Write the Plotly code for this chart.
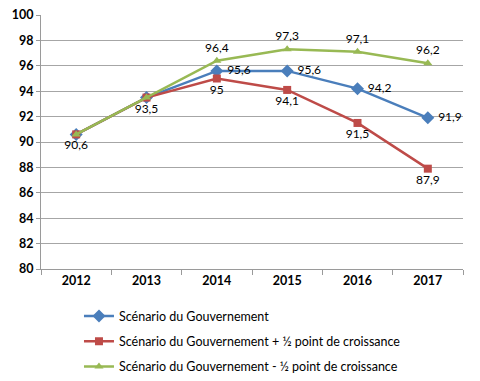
import plotly.graph_objects as go

years = ["2012", "2013", "2014", "2015", "2016", "2017"]
gov = [90.6, 93.5, 95.6, 95.6, 94.2, 91.9]
gov_plus = [90.6, 93.5, 95.0, 94.1, 91.5, 87.9]
gov_minus = [90.6, 93.5, 96.4, 97.3, 97.1, 96.2]
names = ["Scénario du Gouvernement",
         "Scénario du Gouvernement + ½ point de croissance",
         "Scénario du Gouvernement - ½ point de croissance"]
y_ticks = [80, 82, 84, 86, 88, 90, 92, 94, 96, 98, 100]

def fmt(v):
    return ("%g" % v).replace(".", ",")

gov_txt = ["", ""] + [" " + fmt(v) for v in gov[2:]]
plus_txt = [fmt(v) for v in gov_plus]
minus_txt = ["", ""] + [fmt(v) for v in gov_minus[2:]]

fig = go.Figure()
fig.add_trace(go.Scatter(x=years, y=gov, name=names[0], mode="lines+markers+text",
                         line=dict(color="#4A7EBB", width=2.5),
                         marker=dict(symbol="diamond", size=10, color="#4A7EBB"),
                         text=gov_txt, textposition="middle right", cliponaxis=False,
                         textfont=dict(size=12, color="black"), legendgroup="a"))
fig.add_trace(go.Scatter(x=years, y=gov_plus, name=names[1], mode="lines+markers+text",
                         line=dict(color="#BE4B48", width=2.5),
                         marker=dict(symbol="square", size=8, color="#BE4B48"),
                         text=plus_txt, textposition="bottom center", cliponaxis=False,
                         textfont=dict(size=12, color="black"), legendgroup="b"))
fig.add_trace(go.Scatter(x=years, y=gov_minus, name=names[2], mode="lines+markers+text",
                         line=dict(color="#98B954", width=2.5),
                         marker=dict(symbol="triangle-up", size=8, color="#98B954"),
                         text=minus_txt, textposition="top center", cliponaxis=False,
                         textfont=dict(size=12, color="black"), legendgroup="c"))

fig.update_layout(
    width=480, height=381,
    margin=dict(l=41, r=17, t=15, b=112, autoexpand=False),
    paper_bgcolor="white", plot_bgcolor="white",
    font=dict(family="Lato, Open Sans, sans-serif", size=12, color="black"),
    showlegend=True,
    legend=dict(x=0.09, y=-0.127, xanchor="left", yanchor="top",
                orientation="v", tracegroupgap=6, font=dict(size=12.5),
                itemwidth=30, traceorder="grouped"),
    xaxis=dict(type="category", range=[-0.5, 5.5], showgrid=False,
               showline=True, linecolor="#9A9A9A", linewidth=1,
               ticks="outside", tickson="boundaries", ticklen=5, tickcolor="#9A9A9A",
               tickfont=dict(size=12.5, family="Lato, sans-serif", weight="bold")),
    yaxis=dict(range=[80, 100], tickvals=y_ticks, showgrid=True, gridcolor="#A6A6A6",
               gridwidth=1, showline=True, linecolor="#9A9A9A", linewidth=1,
               ticks="outside", ticklen=4, tickcolor="#9A9A9A", zeroline=False,
               tickfont=dict(size=12.5, family="Lato, sans-serif", weight="bold")),
)

fig.write_html("out.html", config={"displayModeBar": False},
               post_script="document.body.style.margin='0';")
